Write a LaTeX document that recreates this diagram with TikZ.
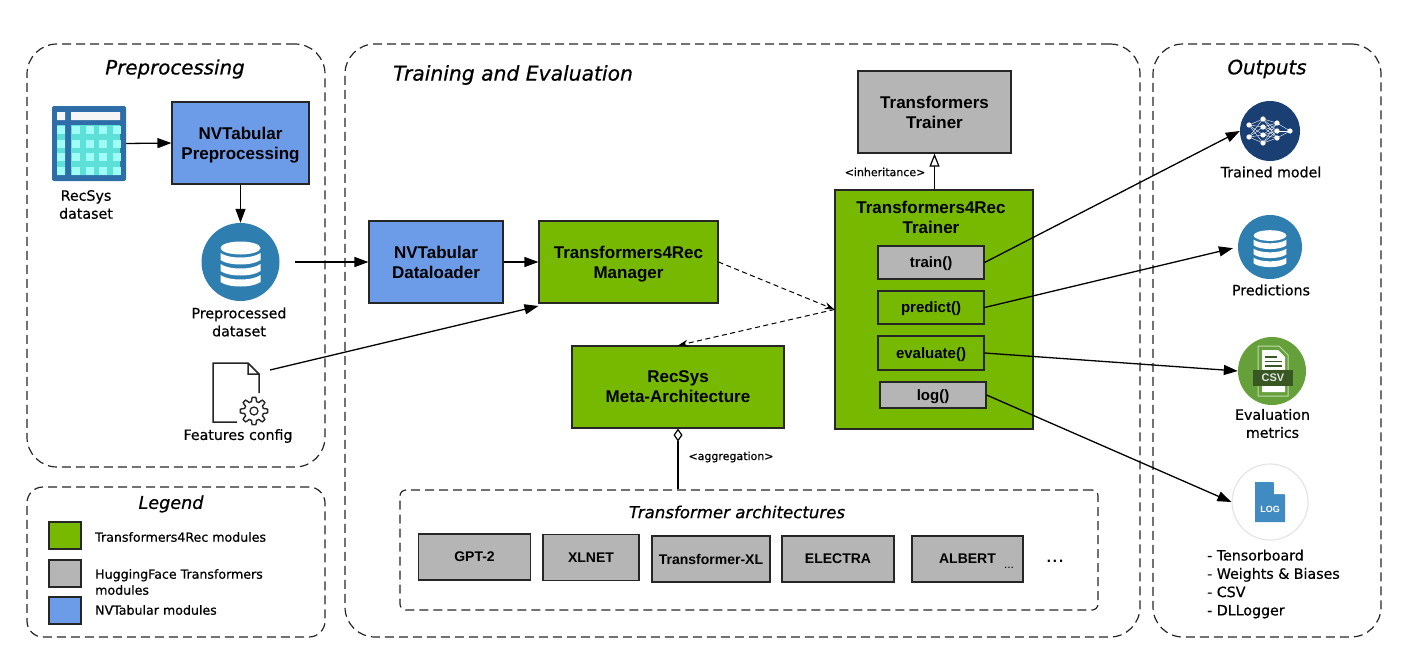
\documentclass[tikz,border=0pt]{standalone}
\usepackage{fontspec}
\setmainfont{Liberation Sans}
\newfontfamily\labelfont[FakeBold=0.6]{DejaVu Sans}
\usetikzlibrary{positioning, arrows.meta}

\definecolor{nvgreen}{HTML}{76B900}
\definecolor{hfgray}{HTML}{B5B5B5}
\definecolor{tabblue}{HTML}{6C9BE8}
\definecolor{boxline}{HTML}{262626}
\definecolor{dbblue}{HTML}{2E7EAF}
\definecolor{netblue}{HTML}{1A3F72}
\definecolor{csvgreen}{HTML}{66A03A}
\definecolor{csvdark}{HTML}{385723}
\definecolor{logblue}{HTML}{3F8BC2}
\definecolor{tableblue}{HTML}{2F6DA8}
\definecolor{tableteal}{HTML}{5CE0D8}
\definecolor{tablelight}{HTML}{9FFCF6}

\tikzset{
	panel/.style={draw=black!85, line width=1.2pt, dash pattern=on 9pt off 5pt, inner sep=0pt},
	modbox/.style={draw=boxline, line width=1.1pt, align=center, inner sep=0pt, text depth=0pt,
		font=\fontsize{17}{20}\selectfont\bfseries},
	greenbox/.style={modbox, fill=nvgreen},
	graybox/.style={modbox, fill=hfgray},
	bluebox/.style={modbox, fill=tabblue},
	methodbox/.style={modbox, minimum width=106pt, font=\fontsize{15}{18}\selectfont\bfseries},
	archbox/.style={graybox, minimum height=46pt, font=\fontsize{14}{16}\selectfont\bfseries},
	legendbox/.style={modbox, minimum width=32pt, minimum height=27pt},
	title/.style={font=\labelfont\fontsize{19.8}{22}\selectfont\itshape, inner sep=0pt},
	caption/.style={font=\labelfont\fontsize{14.2}{18}\selectfont, align=center, inner sep=0pt},
	legendtext/.style={font=\labelfont\fontsize{12.6}{16}\selectfont, align=left, anchor=west, inner sep=0pt},
	relation/.style={font=\labelfont\fontsize{11}{14}\selectfont, inner sep=0pt},
	icon/.style={circle, inner sep=0pt, minimum size=#1},
	flow/.style={-{Triangle[length=14pt,width=10pt]}, line width=1.3pt},
	uses/.style={-{Stealth[length=10pt,width=7pt]}, line width=1pt, dash pattern=on 5pt off 3.5pt},
	dbicon/.pic={
		\fill[white] (0,-14) ellipse [x radius=20pt, y radius=6.5pt];
		\foreach \y in {-9,2,13}
			\fill[white] (-20,\y) .. controls (-12,\y+6) and (12,\y+6) .. (20,\y)
				-- (20,\y+7) .. controls (12,\y+13) and (-12,\y+13) .. (-20,\y+7) -- cycle;
	},
}

\begin{document}
\begin{tikzpicture}
[x=1pt,y=-1pt,on grid,inner sep=2pt]
\useasboundingbox (0,0) rectangle (1412,653);

% dashed groups
\node[panel, rounded corners=30pt, minimum width=298pt, minimum height=423pt] (prepanel) at (176,255.5) {};
\node[panel, rounded corners=30pt, minimum width=795pt, minimum height=593pt] (trainpanel) at (742.5,340.5) {};
\node[panel, rounded corners=30pt, minimum width=228pt, minimum height=593pt] (outpanel) at (1267,340.5) {};
\node[panel, rounded corners=16pt, minimum width=298pt, minimum height=150pt] (legendpanel) at (176,562) {};
\node[panel, rounded corners=6pt, minimum width=698pt, minimum height=120pt] (archpanel) at (749,550) {};

\node[title] (pretitle) at (175,69) {Preprocessing};
\node[title, font=\labelfont\fontsize{20.3}{22}\selectfont\itshape] (traintitle) at (513,75) {Training and Evaluation};
\node[title] (outtitle) at (1267,69) {Outputs};
\node[title, font=\labelfont\fontsize{17.6}{22}\selectfont\itshape] (legendtitle) at (171,504) {Legend};
\node[title, font=\labelfont\fontsize{16.6}{20}\selectfont\itshape] (archtitle) at (737,512) {Transformer architectures};

% preprocessing
\node[fill=tableblue, rounded corners=2pt, minimum width=74pt, minimum height=75pt, inner sep=0pt] (table) at (89,143.5) {};
\fill[black!4] (57,112) rectangle (65,120) (71,112) rectangle (120,120);
\fill[tableteal] (57,125) rectangle (65,175) (71,125) rectangle (120,175);
\foreach \j in {0,1,2,3} {
	\fill[tablelight] (57,126+13.7*\j) rectangle (65,134+13.7*\j);
	\foreach \i in {0,1,2,3}
		\fill[tablelight] (72+13.5*\i,126+13.7*\j) rectangle (80+13.5*\i,134+13.7*\j);
}
\node[caption] (tablelabel) at (86,204.5) {RecSys\\dataset};

\node[bluebox, minimum width=137pt, minimum height=82pt] (prep) at (240.5,143) {NVTabular\\Preprocessing};

\node[icon=78pt, fill=dbblue, below=119pt of prep] (db) {};
\pic at (db) {dbicon};
\node[caption] (dblabel) at (239,322) {Preprocessed\\dataset};

\node[inner sep=0pt, minimum width=55pt, minimum height=62pt] (fc) at (240,393) {};
\draw[black!85, line width=1.5pt] (237,422) -- (213,422) -- (213,363) -- (248,363) -- (259,374) -- (259,393)
	(248,363) -- (248,374) -- (259,374);
\draw[black!85, line width=1.4pt] plot[domain=0:360,samples=145]
	({254+(11.7+2*max(-1,min(1,2.2*cos(8*\x))))*cos(\x)},{411+(11.7+2*max(-1,min(1,2.2*cos(8*\x))))*sin(\x)}) -- cycle;
\draw[black!85, line width=1.3pt] (254,411) circle (4pt);
\node[caption] (fclabel) at (238,436) {Features config};
\coordinate (fcout) at (270,370);
\coordinate (fcin) at (538.5,306);

% training
\node[bluebox, minimum width=134pt, minimum height=82pt] (dl) at (436,262) {NVTabular\\Dataloader};
\node[greenbox, minimum width=179pt, minimum height=82pt, right=192.5pt of dl] (mgr) {Transformers4Rec\\Manager};
\node[greenbox, minimum width=212pt, minimum height=82pt] (recsys) at (678,387) {RecSys\\Meta-Architecture};

\node[graybox, minimum width=153pt, minimum height=82pt] (hftrainer) at (934.5,112) {Transformers\\Trainer};
\node[greenbox, minimum width=198pt, minimum height=239pt] (t4r) at (934,309.5) {};
\node[inner sep=0pt, align=center, font=\fontsize{17}{20}\selectfont\bfseries] (t4rlabel) at (931,217) {Transformers4Rec\\Trainer};
\node[methodbox, fill=hfgray, minimum height=33pt] (train) at (931,262.5) {train()};
\node[methodbox, fill=nvgreen, minimum height=33pt, below=45pt of train] (predict) {predict()};
\node[methodbox, fill=nvgreen, minimum height=34pt, below=45.5pt of predict] (evaluate) {evaluate()};
\node[methodbox, fill=hfgray, minimum height=26pt] (logm) at (933,395) {log()};

\node[relation] (inherit) at (885,172) {<inheritance>};
\node[relation] (aggr) at (731,457) {<aggregation>};

\node[archbox, minimum width=112pt] (gpt) at (474.5,557) {GPT-2};
\node[archbox, minimum width=96pt] (xlnet) at (591,557.5) {XLNET};
\node[archbox, minimum width=118pt] (txl) at (711,559) {Transformer-XL};
\node[archbox, minimum width=112pt] (electra) at (838,559) {ELECTRA};
\node[archbox, minimum width=111pt] (albert) at (967.5,559) {ALBERT};
\node[inner sep=0pt, font=\fontsize{12}{14}\selectfont] (albertmore) at (1009,568) {...};
\node[inner sep=0pt, font=\fontsize{22}{24}\selectfont] (archmore) at (1055,561) {...};

% outputs
\node[icon=60pt, fill=netblue] (model) at (1270,131) {};
\foreach \a/\b in {1249/125,1249/137} \foreach \c/\d in {1263/119,1263/127,1263/135,1263/143}
	\draw[white, line width=.4pt] (\a,\b) -- (\c,\d);
\foreach \a/\b in {1263/119,1263/127,1263/135,1263/143} \foreach \c/\d in {1277/123,1277/131,1277/138}
	\draw[white, line width=.4pt] (\a,\b) -- (\c,\d);
\foreach \a/\b in {1277/123,1277/131,1277/138}
	\draw[white, line width=.4pt] (\a,\b) -- (1290,131);
\foreach \a/\b in {1249/125,1249/137,1263/119,1263/127,1263/135,1263/143,1277/123,1277/131,1277/138,1290/131}
	\fill[white] (\a,\b) circle (2.6pt);
\node[caption] (modellabel) at (1271,172) {Trained model};

\node[icon=64pt, fill=dbblue] (pred) at (1270,247) {};
\pic[scale=.82] at (pred) {dbicon};
\node[caption] (predlabel) at (1271,290) {Predictions};

\node[icon=68pt, fill=csvgreen] (csv) at (1272,371) {};
\draw[csvgreen!40!white, line width=1pt] (1258,396) -- (1258,346) -- (1279,346) -- (1288,355) -- (1288,396) -- cycle;
\fill[white] (1262,350) -- (1278,350) -- (1285,357) -- (1285,392) -- (1262,392) -- cycle;
\draw[csvdark, line width=1.2pt] (1265,357) -- (1277,357) (1265,361.5) -- (1282,361.5) (1265,366) -- (1282,366);
\node[fill=csvdark, text=white!90!black, minimum width=40pt, minimum height=16pt, inner sep=0pt, font=\fontsize{11}{12}\selectfont\bfseries] (csvband) at (1273,378) {CSV};
\node[caption] (csvlabel) at (1272.5,423.5) {Evaluation\\metrics};

\node[icon=76pt, draw=black!10, line width=1.2pt, fill=white] (log) at (1270,502) {};
\fill[logblue] (1255,482) -- (1273,482) -- (1285,495) -- (1285,522) -- (1255,522) -- cycle;
\fill[white] (1274,482) -- (1285,494) -- (1274,494) -- cycle;
\node[inner sep=0pt, text=white, font=\fontsize{9}{11}\selectfont\bfseries] (logtext) at (1270,509) {LOG};
\node[caption, align=left, anchor=west, font=\labelfont\fontsize{14.2}{18.3}\selectfont] (loglist) at (1207,584) {- Tensorboard\\- Weights \& Biases\\- CSV\\- DLLogger};

% legend
\node[legendbox, fill=nvgreen] (keygreen) at (65,535.5) {};
\node[legendbox, fill=hfgray, below=38pt of keygreen] (keygray) {};
\node[legendbox, fill=tabblue, below=37pt of keygray] (keyblue) {};
\node[legendtext] (keygreentext) at (95,537) {Transformers4Rec modules};
\node[legendtext] (keygraytext) at (95,582) {HuggingFace Transformers\\modules};
\node[legendtext] (keybluetext) at (95,610) {NVTabular modules};

% connectors
\draw[flow] (table.east) -- (prep.west);
\draw[flow] (prep.south) -- (db.north);
\draw[flow, shorten <=15pt] (db.east) -- (dl.west);
\draw[flow] (dl.east) -- (mgr.west);
\draw[flow] (fcout) -- (fcin);
\draw[uses] (mgr.east) -- (t4r.west);
\draw[uses] (t4r.west) -- (recsys.north);
\draw[-{Triangle[open,length=13pt,width=10pt]}, line width=1.2pt] (t4r.north -| hftrainer.south) -- (hftrainer.south);
\draw[{Diamond[open,length=13pt,width=9pt]}-, line width=1.2pt] (recsys.south) -- (recsys.south |- archpanel.north);
\draw[flow] (train.east) -- (model.west);
\draw[flow, shorten >=5pt] (predict.east) -- (pred.west);
\draw[flow] (evaluate.east) -- (csv.west);
\draw[flow] (logm.east) -- (log.west);

\end{tikzpicture}
\end{document}
